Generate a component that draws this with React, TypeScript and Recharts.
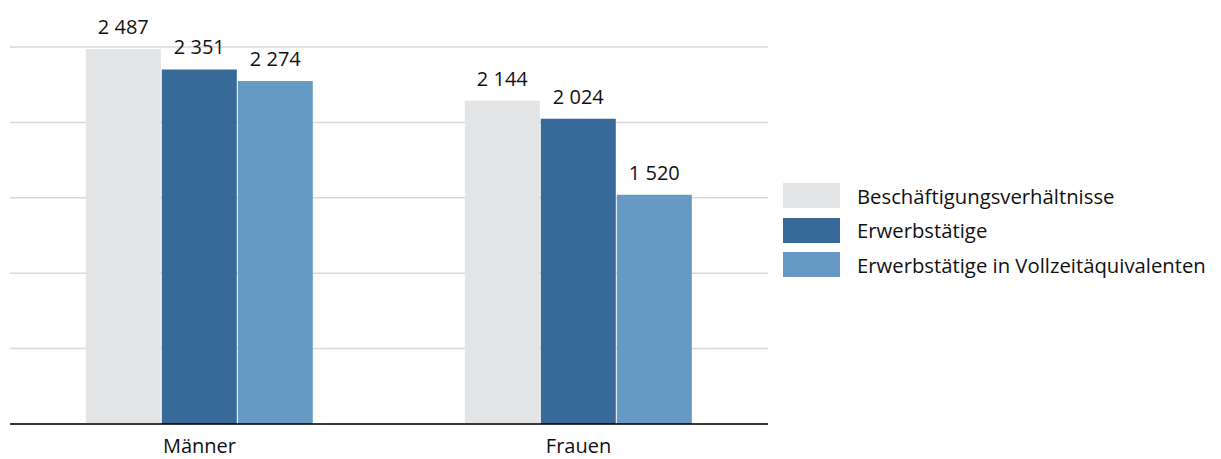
import React from 'react';
import { BarChart, Bar, XAxis, YAxis, CartesianGrid, LabelList } from 'recharts';

const categories = ['Männer', 'Frauen'];
const beschaeftigung = [2487, 2144];
const erwerbstaetige = [2351, 2024];
const vollzeit = [2274, 1520];
const yTicks = [0, 500, 1000, 1500, 2000, 2500];

const series = [
  { key: 'beschaeftigung', name: 'Beschäftigungsverhältnisse', color: '#e3e4e6' },
  { key: 'erwerbstaetige', name: 'Erwerbstätige', color: '#376a99' },
  { key: 'vollzeit', name: 'Erwerbstätige in Vollzeitäquivalenten', color: '#6699c4' },
];

const data = categories.map((cat, i) => ({
  cat,
  beschaeftigung: beschaeftigung[i],
  erwerbstaetige: erwerbstaetige[i],
  vollzeit: vollzeit[i],
}));

const FONT = '"Open Sans", sans-serif';

const fmt = (v: any) => String(v).replace(/\B(?=(\d{3})+(?!\d))/g, ' ');

const LegendBox = () => (
  <div
    style={{
      position: 'absolute',
      left: 783,
      top: 178.5,
      fontFamily: FONT,
      fontSize: 20.3,
      color: '#111',
      whiteSpace: 'nowrap',
    }}
  >
    {series.map((s) => (
      <div key={s.key} style={{ display: 'flex', alignItems: 'center', height: 34.5 }}>
        <div style={{ width: 57, height: 25, background: s.color, marginRight: 17 }} />
        <span>{s.name}</span>
      </div>
    ))}
  </div>
);

const App: React.FC = () => {
  return (
    <div style={{ position: 'absolute', left: 0, top: 0, width: 1221, height: 459, background: '#fff' }}>
      <BarChart
        width={1221}
        height={459}
        data={data}
        margin={{ top: 47, right: 453, left: 10, bottom: 0 }}
        barCategoryGap="20%"
        barGap={1}
      >
        <CartesianGrid vertical={false} stroke="#d9d9d9" strokeWidth={1.5} />
        <XAxis
          dataKey="cat"
          height={35}
          tickLine={false}
          axisLine={{ stroke: '#000', strokeWidth: 1.5 }}
          tickMargin={9}
          tick={{ fill: '#111', fontSize: 20, fontFamily: FONT }}
        />
        <YAxis hide domain={[0, 2500]} ticks={yTicks} width={0} />
        {series.map((s) => (
          <Bar key={s.key} dataKey={s.key} name={s.name} fill={s.color} isAnimationActive={false}>
            <LabelList
              dataKey={s.key}
              position="top"
              offset={15}
              formatter={fmt}
              style={{ fill: '#111', fontSize: 20, fontFamily: FONT }}
            />
          </Bar>
        ))}
      </BarChart>
      <LegendBox />
    </div>
  );
};

export default App;
